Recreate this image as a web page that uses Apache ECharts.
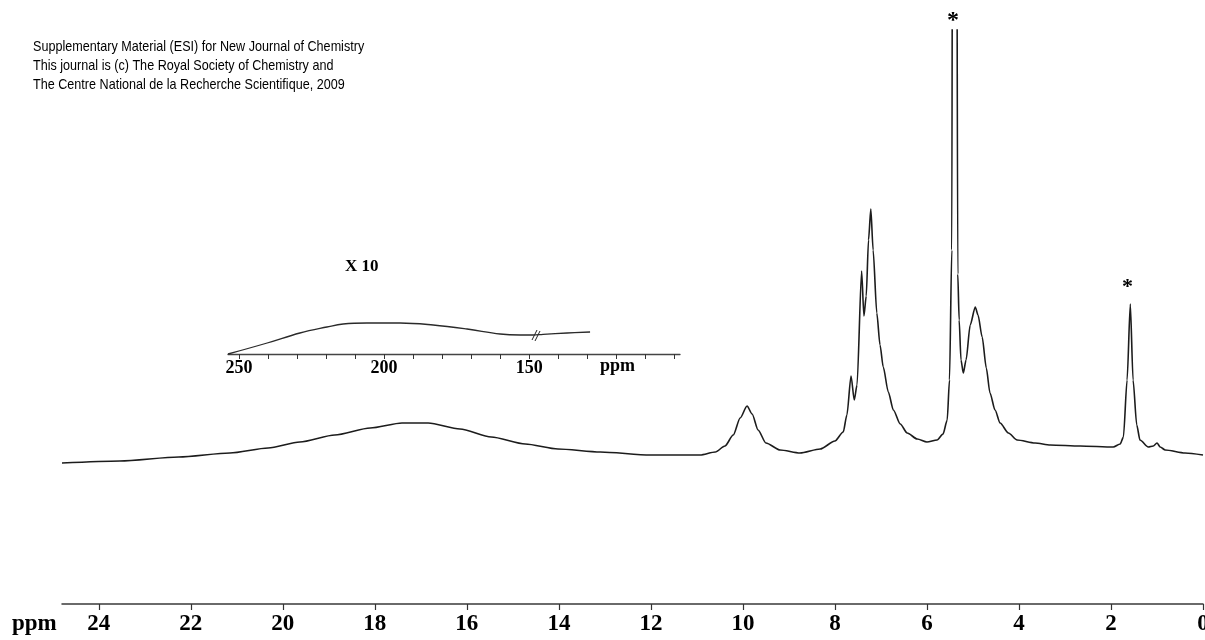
<!DOCTYPE html>
<html>
<head>
<meta charset="utf-8">
<script src="https://cdn.jsdelivr.net/npm/echarts@6/dist/echarts.min.js"></script>
<style>
html,body{margin:0;padding:0;background:#fff;}
#chart{width:1205px;height:640px;}
</style>
</head>
<body>
<div id="chart"></div>
<script>
// Main 1H spectrum (ppm, relative intensity)
const mainPpm = [24.80,23.54,22.26,21.15,20.32,19.63,18.87,18.10,17.41,16.84,16.15,15.47,14.73,14.02,13.10,12.02,10.93,10.60,10.39,10.21,10.06,9.91,9.80,9.67,9.50,9.19,8.76,8.32,8.00,7.82,7.74,7.65,7.58,7.52,7.42,7.37,7.32,7.27,7.22,7.17,7.09,7.02,6.95,6.84,6.73,6.58,6.43,6.21,6.00,5.78,5.65,5.56,5.51,5.46,5.44,5.36,5.33,5.30,5.26,5.21,5.15,5.06,4.95,4.89,4.80,4.71,4.63,4.52,4.41,4.23,4.04,3.65,3.32,2.67,1.95,1.80,1.73,1.65,1.58,1.52,1.44,1.37,1.19,1.08,1.00,0.93,0.82,0.39,0.00];
const mainIntensity = [141,143,147,151,156,162,169,176,181,181,175,167,160,155,152,149,149,152,158,169,186,198,190,174,161,154,151,155,163,172,189,228,204,219,333,288,308,364,395,354,291,259,237,212,194,180,171,165,162,164,170,184,224,354,900,900,330,284,244,231,244,279,297,289,267,236,211,194,181,171,164,161,159,158,157,160,167,224,300,224,179,164,157,158,161,157,154,151,149];
const mainTicks = [0,2,4,6,8,10,12,14,16,18,20,22,24];

// Inset (x10) trace
const insetPpm = [253.8,240.3,229.0,219.7,214.1,205.9,194.5,183.1,171.4,160.0,153.1,148.6,145.2,136.9,129.0];
const insetIntensity = [0,11,21,27,30,31,31,29,25,20,19,19,19.7,21,22];
const insetTicks = [100,110,120,130,140,150,160,170,180,190,200,210,220,230,240,250];
const insetLabels = [150,200,250];

const headerLines = [
  'Supplementary Material (ESI) for New Journal of Chemistry',
  'This journal is (c) The Royal Society of Chemistry and',
  'The Centre National de la Recherche Scientifique, 2009'
];

const chart = echarts.init(document.getElementById('chart'), null, {renderer:'canvas'});
const serif = '"Liberation Serif", "Times New Roman", serif';
const sans = '"Liberation Sans", Arial, sans-serif';

const option = {
  backgroundColor: '#ffffff',
  animation: false,
  grid: [
    {left: 62, right: 2, top: 30, bottom: 36, containLabel: false, outerBoundsMode: 'none'},
    {left: 228, width: 452, top: 300, height: 54, containLabel: false, outerBoundsMode: 'none'}
  ],
  xAxis: [
    {
      gridIndex: 0, type: 'value', inverse: true, min: 0, max: 24.8,
      axisLine: {show: true, lineStyle: {color: '#3a3a3a', width: 1.5}},
      axisTick: {show: true, inside: false, length: 6, customValues: mainTicks, lineStyle: {color: '#333', width: 1.2}},
      axisLabel: {show: true, customValues: mainTicks, margin: 9, fontFamily: serif, fontWeight: 'bold', fontSize: 23, color: '#000'},
      splitLine: {show: false}
    },
    {
      gridIndex: 1, type: 'value', inverse: true, min: 98, max: 253.8,
      axisLine: {show: true, lineStyle: {color: '#444', width: 1.3}},
      axisTick: {show: true, length: 5, customValues: insetTicks, lineStyle: {color: '#333', width: 1}},
      axisLabel: {show: true, customValues: insetLabels, margin: 5, fontFamily: serif, fontWeight: 'bold', fontSize: 18, color: '#000'},
      splitLine: {show: false}
    }
  ],
  yAxis: [
    {gridIndex: 0, type: 'value', min: 0, max: 574, show: false},
    {gridIndex: 1, type: 'value', min: 0, max: 54, show: false}
  ],
  series: [
    {
      type: 'line', xAxisIndex: 0, yAxisIndex: 0,
      data: mainPpm.map((p, i) => [p, mainIntensity[i]]),
      showSymbol: false, smooth: 0.25, smoothMonotone: 'x', clip: true,
      lineStyle: {color: '#1c1c1c', width: 1.6}
    },
    {
      type: 'line', xAxisIndex: 1, yAxisIndex: 1,
      data: insetPpm.map((p, i) => [p, insetIntensity[i]]),
      showSymbol: false, smooth: 0.4, clip: false,
      lineStyle: {color: '#2a2a2a', width: 1.3}
    }
  ],
  graphic: [
    {type: 'text', x: 33, y: 37, scaleX: 0.84, style: {text: headerLines.join('\n'), font: '15px ' + sans, fill: '#000', lineHeight: 19}},
    {type: 'text', left: 12, top: 613, style: {text: 'ppm', font: 'bold 23px ' + serif, fill: '#000'}},
    {type: 'text', left: 600, top: 357, style: {text: 'ppm', font: 'bold 18px ' + serif, fill: '#000'}},
    {type: 'text', left: 345, top: 258, style: {text: 'X 10', font: 'bold 17px ' + serif, fill: '#000'}},
    {type: 'text', left: 947, top: 9, style: {text: '*', font: 'bold 24px ' + serif, fill: '#000'}},
    {type: 'text', left: 1122, top: 276, style: {text: '*', font: 'bold 22px ' + serif, fill: '#000'}},
    {type: 'line', shape: {x1: 532, y1: 340, x2: 537, y2: 330}, style: {stroke: '#222', lineWidth: 1}},
    {type: 'line', shape: {x1: 535, y1: 341, x2: 540, y2: 331}, style: {stroke: '#222', lineWidth: 1}}
  ]
};
chart.setOption(option);
</script>
</body>
</html>
